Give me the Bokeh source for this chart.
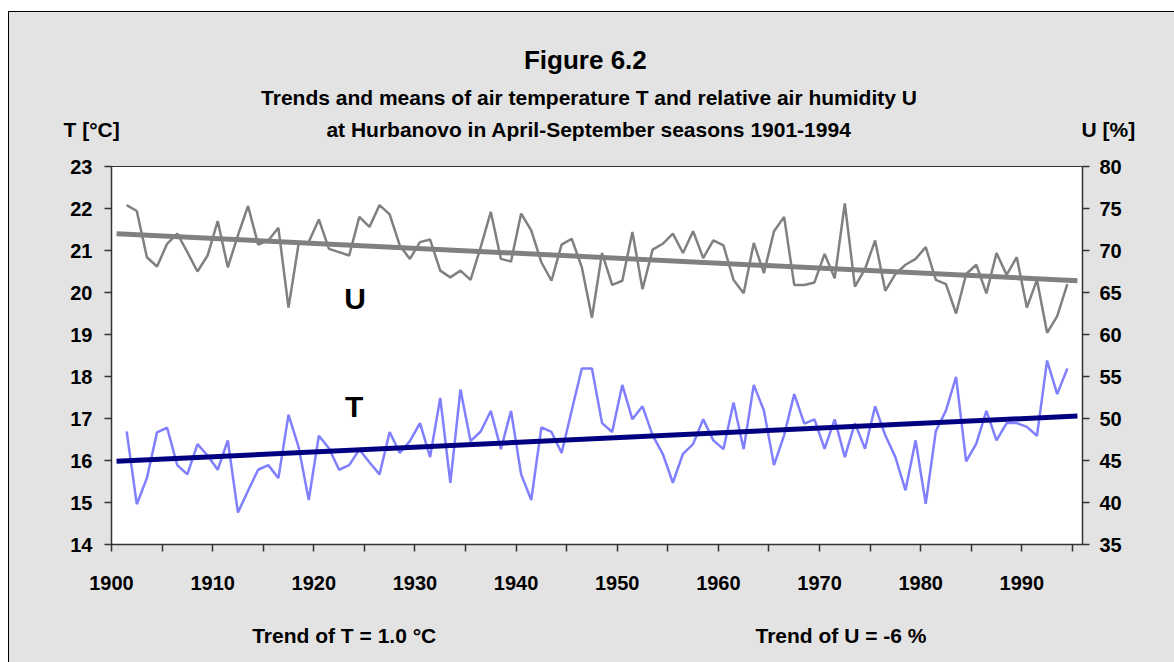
from bokeh.plotting import figure
from bokeh.layouts import column
from bokeh.models import Range1d, LinearAxis, FixedTicker, Label, ColumnDataSource
from bokeh.core.properties import value
from bokeh.embed import file_html
from bokeh.resources import INLINE

# ---- data ----
years = list(range(1901, 1995))

temp_T = [16.69, 14.96, 15.58, 16.67, 16.78, 15.89, 15.67, 16.39, 16.12, 15.78,
          16.48, 14.76, 15.28, 15.78, 15.89, 15.58, 17.09, 16.32, 15.06, 16.59,
          16.29, 15.78, 15.89, 16.26, 15.96, 15.67, 16.68, 16.18, 16.46, 16.89,
          16.08, 17.49,
          15.47, 17.69, 16.46, 16.69, 17.18, 16.27, 17.18, 15.67, 15.06, 16.79,
          16.68, 16.18, 17.19, 18.19, 18.19, 16.89, 16.68, 17.80, 16.98, 17.29,
          16.60, 16.16, 15.47, 16.16, 16.39, 16.98, 16.48, 16.27, 17.38, 16.27,
          17.80,
          17.19, 15.89, 16.60, 17.58, 16.88, 16.98, 16.28, 16.98, 16.08, 16.89,
          16.28, 17.29, 16.60, 16.08, 15.29, 16.48, 14.97, 16.70, 17.19, 17.99,
          15.98, 16.40, 17.18, 16.48, 16.89, 16.89, 16.80, 16.59, 18.38, 17.58,
          18.19]

hum_U = [75.4, 74.7, 69.2, 68.1, 70.8, 72.0, 69.8, 67.5, 69.4, 73.5,
         68.0, 71.8, 75.3, 70.7, 71.2, 72.7, 63.2, 70.8, 71.0, 73.7,
         70.2, 69.8, 69.4, 74.0, 72.8, 75.4, 74.3, 70.6, 69.0, 71.0,
         71.3, 67.6,
         66.8, 67.6, 66.5, 70.4, 74.6, 69.0, 68.7, 74.4, 72.4, 68.6,
         66.4, 70.7, 71.4, 68.0, 62.0, 69.7, 65.9, 66.4, 72.2, 65.4,
         70.1, 70.8, 72.0, 69.7, 72.3, 69.1, 71.2, 70.6, 66.5, 64.9,
         70.9,
         67.3, 72.3, 74.0, 65.9, 65.9, 66.2, 69.6, 66.7, 75.6, 65.7,
         67.8, 71.2, 65.2, 67.2, 68.3, 69.0, 70.4, 66.5, 66.0, 62.5,
         67.2, 68.3, 64.9, 69.7, 67.1, 69.2, 63.2, 66.5, 60.2, 62.2,
         66.0]

trend_years = [1900, 1995]
trend_T = [15.98, 17.06]
trend_U = [72.0, 66.4]

x_ticks = list(range(1900, 2000, 5))
x_tick_labels = {t: (str(t) if (t % 10 == 0 and t <= 1990) else "") for t in x_ticks}
t_ticks = list(range(14, 24))
u_ticks = list(range(35, 85, 5))

title_text = "Figure  6.2"
subtitle_1 = "Trends and means of air temperature T and relative air humidity U"
subtitle_2 = "at Hurbanovo in April-September seasons 1901-1994"
left_unit = "T [°C]"
right_unit = "U [%]"
trend_note_T = "Trend of  T = 1.0 °C"
trend_note_U = "Trend of  U = -6 %"

# ---- styling ----
FONT = "Liberation Sans"
BG = "#e3e3e3"
AX = "#333333"
W = 1165
H_TOP, H_MAIN, H_BOT = 140, 460, 50

def text_panel(height):
    f = figure(width=W, height=height, x_range=Range1d(0, W), y_range=Range1d(height, 0),
               output_backend="svg", toolbar_location=None,
               x_axis_type=None, y_axis_type=None, min_border=0,
               background_fill_color=BG, border_fill_color=BG, outline_line_color=None)
    f.grid.visible = False
    return f

def put_text(f, x, y, text, size, align):
    f.text(x=[x], y=[y], text=[text], text_font=value(FONT), text_font_style="bold",
           text_font_size=size, text_color="black", text_align=align,
           text_baseline="alphabetic")

# ---- top text panel ----
top = text_panel(H_TOP)
put_text(top, 579.5, 47, title_text, "26px", "center")
put_text(top, 579.5, 85, subtitle_1, "21px", "center")
put_text(top, 579.5, 117, subtitle_2, "21px", "center")
put_text(top, 54, 117, left_unit, "21px", "left")
put_text(top, 1072, 117, right_unit, "21px", "left")

# ---- main chart ----
p = figure(width=W, height=H_MAIN,
           x_range=Range1d(1900, 1996), y_range=Range1d(14, 23),
           output_backend="svg", toolbar_location=None,
           min_border_left=102, min_border_right=92,
           min_border_top=14, min_border_bottom=68,
           background_fill_color="white", border_fill_color=BG,
           outline_line_color=AX, outline_line_width=1)
p.extra_y_ranges = {"U": Range1d(35, 80)}
p.grid.visible = False

right_axis = LinearAxis(y_range_name="U")
p.add_layout(right_axis, "right")

def style_axis(ax):
    ax.axis_line_color = AX
    ax.axis_line_width = 1.5
    ax.major_tick_line_color = AX
    ax.major_tick_line_width = 1.5
    ax.major_tick_out = 7
    ax.major_tick_in = 0
    ax.minor_tick_line_color = None
    ax.major_label_text_font = FONT
    ax.major_label_text_font_style = "bold"
    ax.major_label_text_font_size = "20px"
    ax.major_label_text_color = "black"

xa = p.xaxis[0]
style_axis(xa)
xa.ticker = FixedTicker(ticks=x_ticks)
xa.major_label_overrides = x_tick_labels
xa.major_label_standoff = 24

la = p.yaxis[0]
style_axis(la)
la.ticker = FixedTicker(ticks=t_ticks)
la.major_label_standoff = 12
la.major_label_text_baseline = "top"

style_axis(right_axis)
right_axis.ticker = FixedTicker(ticks=u_ticks)
right_axis.major_label_standoff = 10
right_axis.major_label_text_baseline = "top"

xs = [y + 0.5 for y in years]
txs = [y + 0.5 for y in trend_years]

src = ColumnDataSource(dict(x=xs, T=temp_T, U=hum_U))
tsrc = ColumnDataSource(dict(x=txs, T=trend_T, U=trend_U))

p.line("x", "U", source=src, y_range_name="U", line_color="#808080", line_width=2.5)
p.line("x", "U", source=tsrc, y_range_name="U", line_color="#808080", line_width=5)
p.line("x", "T", source=src, line_color="#8080ff", line_width=2.5)
p.line("x", "T", source=tsrc, line_color="#000080", line_width=5)

for tx, ty, tt in [(1924.08, 19.86, "U"), (1923.98, 17.28, "T")]:
    p.add_layout(Label(x=tx, y=ty, text=tt, text_font=FONT, text_font_style="bold",
                       text_font_size="30px", text_color="black", text_align="center",
                       text_baseline="alphabetic"))

# ---- bottom text panel ----
bot = text_panel(H_BOT)
put_text(bot, 242.7, 23.3, trend_note_T, "21px", "left")
put_text(bot, 746, 23.3, trend_note_U, "21px", "left")

layout = column(column(top), p, column(bot), spacing=0,
                styles={"margin-left": "8px", "margin-top": "11px",
                        "border-top": "1px solid #000000",
                        "border-left": "1px solid #000000",
                        "background-color": BG})

open("out.html", "w").write(file_html(layout, INLINE))
